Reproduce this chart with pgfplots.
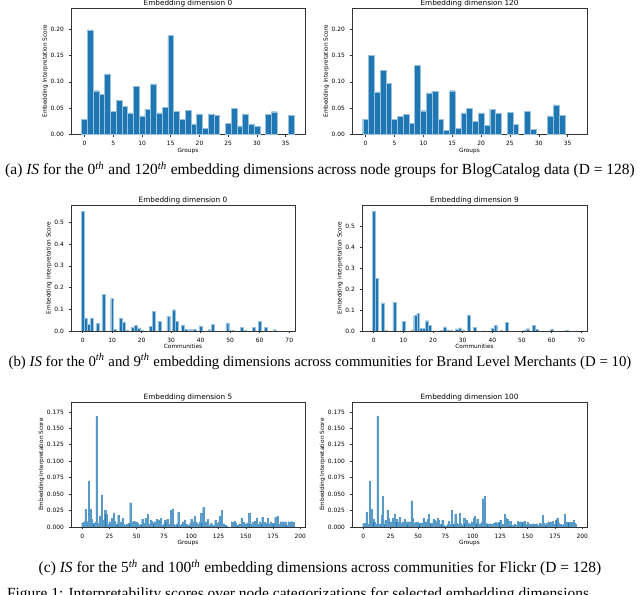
\documentclass[border=0pt]{standalone}
\usepackage{pgfplots}
\pgfplotsset{compat=1.18}
\usepackage{fontspec}
\setmainfont{Liberation Serif}
\newfontfamily\mpl{DejaVu Sans}
\definecolor{mplblue}{HTML}{1F77B4}

\pgfplotsset{
  mplax/.style={
    scale only axis,
    anchor=north west,
    axis line style={black!80, line width=0.5pt},
    tick pos=left,
    tick align=outside,
    major tick length=1.6pt,
    every tick/.style={black!80, line width=0.4pt},
    ymin=0,
    ybar, bar shift=0pt,
    ticklabel style={font=\mpl\fontsize{4.2}{5}\selectfont},
    /pgf/number format/assume math mode=true,
    label style={font=\mpl\fontsize{4.1}{5}\selectfont},
    xlabel style={yshift=5.5pt},
    ylabel style={yshift=-5pt},
    title style={font=\mpl\fontsize{5.2}{6}\selectfont, yshift=-8.5pt},
    ylabel={Embedding Interpretation Score},
    scaled y ticks=false,
  },
  barwide/.style={fill=mplblue, draw=white!55!mplblue, line width=0.25pt, bar width=1},
  barthin/.style={fill=mplblue, draw=white!25!mplblue, line width=0.1pt, bar width=1},
  blog/.style={mplax, width=5.85cm, height=3.15cm, xmin=-2.35, xmax=38.35, ymax=0.24,
    xtick={0,5,...,35}, ytick={0,0.05,...,0.2}, xlabel={Groups},
    yticklabel style={/pgf/number format/.cd, fixed, fixed zerofill, precision=2}},
  brand/.style={mplax, width=5.6cm, height=3.15cm, xmin=-3.95, xmax=71.95,
    xtick={0,10,...,70}, ytick={0,0.1,...,0.5}, xlabel={Communities},
    yticklabel style={/pgf/number format/.cd, fixed, fixed zerofill, precision=1}},
  flickr/.style={mplax, width=5.85cm, height=3.125cm, xmin=-10.25, xmax=204.25, ymax=0.19,
    xtick={0,25,...,200}, ytick={0,0.025,...,0.176}, xlabel={Groups},
    yticklabel style={/pgf/number format/.cd, fixed, fixed zerofill, precision=3}},
}

\begin{document}
\begin{tikzpicture}
\useasboundingbox (0,0) rectangle (16,14.875);

% (a) BlogCatalog
\begin{axis}[blog, at={(1.775cm,14.667cm)}, title={Embedding dimension 0}]
\addplot[barwide] coordinates {(0,0.028) (1,0.199) (2,0.083) (3,0.076) (4,0.115) (5,0.044)
 (6,0.065) (7,0.053) (8,0.041) (9,0.091) (10,0.035) (11,0.048) (12,0.096) (13,0.041)
 (14,0.051) (15,0.188) (16,0.044) (17,0.029) (18,0.046) (19,0.020) (20,0.039) (21,0.011)
 (22,0.039) (23,0.036) (25,0.021) (26,0.049) (27,0.016) (28,0.039) (29,0.020) (30,0.015)
 (32,0.038) (33,0.043) (36,0.036)};
\end{axis}
\begin{axis}[blog, at={(8.8cm,14.667cm)}, width=5.875cm, title={Embedding dimension 120}]
\addplot[barwide] coordinates {(0,0.029) (1,0.150) (2,0.081) (3,0.122) (4,0.097) (5,0.028)
 (6,0.034) (7,0.038) (8,0.021) (9,0.131) (10,0.045) (11,0.079) (12,0.082) (13,0.029)
 (14,0.007) (15,0.083) (16,0.011) (17,0.041) (18,0.049) (19,0.025) (20,0.041) (21,0.017)
 (22,0.048) (23,0.040) (25,0.042) (26,0.019) (28,0.044) (29,0.010) (32,0.035) (33,0.056)
 (34,0.036)};
\end{axis}

% (b) Brand Level Merchants
\begin{axis}[brand, at={(1.775cm,9.75cm)}, ymax=0.58, title={Embedding dimension 0}]
\addplot[barwide] coordinates {(0,0.552) (1,0.060) (2,0.030) (3,0.060) (5,0.035) (7,0.168)
 (10,0.149) (11,0.008) (13,0.060) (14,0.042) (15,0.005) (17,0.018) (18,0.025) (19,0.014)
 (20,0.004) (23,0.020) (24,0.090) (26,0.045) (29,0.068) (31,0.098) (32,0.045) (34,0.028)
 (35,0.008) (36,0.006) (37,0.006) (38,0.007) (40,0.023) (43,0.006) (44,0.030) (49,0.037)
 (50,0.003) (51,0.002) (54,0.016) (55,0.004) (58,0.016) (60,0.045) (62,0.018) (65,0.006)};
\end{axis}
\begin{axis}[brand, at={(9.05cm,9.75cm)}, width=5.625cm, ymax=0.60, title={Embedding dimension 9}]
\addplot[barwide] coordinates {(0,0.572) (1,0.250) (3,0.134) (4,0.002) (7,0.137) (10,0.046)
 (13,0.005) (14,0.073) (15,0.083) (16,0.014) (17,0.014) (18,0.049) (19,0.027) (23,0.002)
 (24,0.020) (25,0.005) (26,0.003) (28,0.010) (29,0.015) (30,0.003) (32,0.077) (34,0.016)
 (37,0.001) (40,0.014) (41,0.027) (43,0.002) (45,0.040) (51,0.005) (52,0.011) (54,0.028)
 (55,0.007) (60,0.007) (65,0.002)};
\end{axis}

% (c) Flickr
\begin{axis}[flickr, at={(1.775cm,4.825cm)}, title={Embedding dimension 5}]
\addplot[barthin] coordinates {(0,0.006) (1,0.007) (2,0.008) (3,0.027) (4,0.005) (5,0.008)
 (6,0.070) (7,0.004) (8,0.027) (9,0.012) (10,0.006) (11,0.005) (12,0.007) (13,0.168)
 (14,0.004) (15,0.006) (16,0.017) (17,0.005) (18,0.049) (19,0.010) (20,0.006) (21,0.025)
 (22,0.019) (23,0.004) (24,0.003) (25,0.008) (26,0.004) (27,0.014) (28,0.006) (29,0.021)
 (30,0.009) (31,0.003) (32,0.005) (33,0.018) (34,0.007) (35,0.004) (36,0.008) (37,0.013)
 (38,0.004) (39,0.002) (40,0.003) (41,0.005) (42,0.004) (43,0.006) (44,0.037) (45,0.008)
 (46,0.006) (47,0.009) (48,0.005) (49,0.008) (50,0.007) (51,0.006) (52,0.002) (53,0.003)
 (54,0.004) (55,0.012) (56,0.003) (57,0.006) (58,0.013) (59,0.007) (60,0.020) (61,0.004)
 (62,0.002) (63,0.011) (64,0.009) (65,0.006) (66,0.008) (67,0.005) (68,0.012) (69,0.007)
 (70,0.011) (71,0.004) (72,0.013) (73,0.003) (74,0.002) (75,0.005) (76,0.011) (77,0.007)
 (78,0.012) (79,0.003) (80,0.004) (81,0.025) (82,0.006) (83,0.028) (84,0.004) (85,0.003)
 (86,0.002) (87,0.005) (88,0.023) (89,0.002) (90,0.003) (91,0.004) (92,0.008) (93,0.002)
 (94,0.011) (95,0.003) (96,0.004) (97,0.002) (98,0.003) (99,0.006) (100,0.012) (101,0.004)
 (102,0.008) (103,0.017) (104,0.007) (105,0.006) (106,0.005) (107,0.004) (108,0.008)
 (109,0.021) (110,0.006) (111,0.030) (112,0.004) (113,0.008) (114,0.003) (115,0.012)
 (116,0.002) (117,0.003) (118,0.006) (119,0.004) (120,0.002) (121,0.003) (122,0.010)
 (123,0.004) (124,0.006) (125,0.008) (126,0.016) (127,0.003) (128,0.026) (129,0.004)
 (130,0.005) (131,0.003) (132,0.002) (137,0.008) (138,0.004) (139,0.007) (140,0.009)
 (141,0.006) (142,0.003) (143,0.002) (144,0.005) (145,0.004) (146,0.013) (147,0.003)
 (148,0.007) (149,0.002) (150,0.004) (151,0.006) (152,0.003) (153,0.021) (154,0.004)
 (155,0.002) (156,0.007) (157,0.003) (158,0.009) (159,0.005) (160,0.014) (161,0.004)
 (162,0.003) (163,0.008) (164,0.005) (165,0.015) (166,0.004) (167,0.007) (168,0.003)
 (169,0.006) (170,0.013) (171,0.005) (172,0.004) (173,0.008) (174,0.003) (175,0.006)
 (176,0.004) (177,0.015) (178,0.012) (179,0.017) (180,0.005) (181,0.003) (182,0.008)
 (183,0.002) (184,0.008) (185,0.003) (186,0.008) (187,0.002) (188,0.003) (189,0.008)
 (190,0.002) (191,0.008) (192,0.008) (193,0.008) (194,0.007)};
\end{axis}
\begin{axis}[flickr, at={(8.8cm,4.825cm)}, width=5.875cm, title={Embedding dimension 100}]
\addplot[barthin] coordinates {(0,0.005) (1,0.006) (2,0.006) (3,0.023) (4,0.004) (5,0.003)
 (6,0.070) (7,0.005) (8,0.027) (9,0.012) (10,0.008) (11,0.004) (12,0.002) (13,0.169)
 (14,0.003) (15,0.004) (16,0.005) (17,0.018) (18,0.047) (19,0.004) (20,0.010) (21,0.006)
 (22,0.026) (23,0.014) (24,0.003) (25,0.008) (26,0.005) (27,0.014) (28,0.006) (29,0.020)
 (30,0.012) (31,0.008) (32,0.003) (33,0.015) (34,0.006) (35,0.004) (36,0.008) (37,0.003)
 (38,0.012) (39,0.005) (40,0.008) (41,0.004) (42,0.008) (43,0.006) (44,0.040) (45,0.013)
 (46,0.005) (47,0.006) (48,0.007) (49,0.004) (50,0.007) (51,0.006) (52,0.005) (53,0.006)
 (54,0.003) (55,0.013) (56,0.004) (57,0.008) (58,0.005) (59,0.012) (60,0.020) (61,0.006)
 (62,0.004) (63,0.006) (64,0.012) (65,0.011) (66,0.005) (67,0.008) (68,0.013) (69,0.011)
 (70,0.005) (71,0.004) (72,0.010) (73,0.003) (74,0.002) (75,0.001) (76,0.002) (77,0.004)
 (78,0.009) (79,0.003) (80,0.004) (81,0.025) (82,0.005) (83,0.004) (84,0.019) (85,0.006)
 (86,0.003) (87,0.004) (88,0.021) (89,0.006) (90,0.002) (91,0.003) (92,0.014) (93,0.005)
 (94,0.010) (95,0.003) (96,0.006) (97,0.002) (98,0.004) (99,0.008) (100,0.005) (101,0.014)
 (102,0.016) (103,0.006) (104,0.012) (105,0.004) (106,0.003) (107,0.005) (108,0.007)
 (109,0.043) (110,0.016) (111,0.047) (112,0.006) (113,0.005) (114,0.004) (115,0.003)
 (116,0.005) (117,0.002) (118,0.004) (119,0.006) (120,0.003) (121,0.007) (122,0.006)
 (123,0.004) (124,0.007) (125,0.011) (126,0.003) (127,0.004) (128,0.002) (129,0.020)
 (130,0.013) (131,0.005) (132,0.012) (133,0.004) (134,0.009) (135,0.002) (136,0.003)
 (137,0.002) (138,0.005) (139,0.002) (140,0.003) (141,0.009) (142,0.007) (143,0.006)
 (144,0.008) (145,0.007) (146,0.006) (147,0.009) (148,0.005) (149,0.003) (150,0.007)
 (151,0.004) (152,0.002) (153,0.004) (154,0.003) (155,0.005) (156,0.002) (157,0.004)
 (158,0.005) (159,0.002) (160,0.003) (161,0.006) (162,0.004) (163,0.005) (164,0.018)
 (165,0.006) (166,0.003) (167,0.006) (168,0.002) (169,0.008) (170,0.004) (171,0.008)
 (172,0.003) (173,0.009) (174,0.004) (175,0.002) (176,0.011) (177,0.014) (178,0.006)
 (179,0.003) (180,0.004) (181,0.002) (182,0.003) (183,0.004) (184,0.020) (185,0.008)
 (186,0.007) (187,0.007) (188,0.006) (189,0.007) (190,0.005) (191,0.007) (192,0.011)
 (193,0.006) (194,0.004)};
\end{axis}

% captions
\begin{scope}[every node/.style={font=\fontsize{11}{13}\selectfont, inner sep=0pt}]
\node[anchor=base] at (8,10.51) {(a) \textit{IS} for the 0\textsuperscript{\textit{th}} and 120\textsuperscript{\textit{th}} embedding dimensions across node groups for BlogCatalog data (D = 128)};
\node[anchor=base, font=\fontsize{10.55}{12.5}\selectfont] at (8,5.72) {(b) \textit{IS} for the 0\textsuperscript{\textit{th}} and 9\textsuperscript{\textit{th}} embedding dimensions across communities for Brand Level Merchants (D = 10)};
\node[anchor=base] at (8,0.56) {(c) \textit{IS} for the 5\textsuperscript{\textit{th}} and 100\textsuperscript{\textit{th}} embedding dimensions across communities for Flickr (D = 128)};
\node[anchor=base west] at (0.17,-0.08) {Figure 1: Interpretability scores over node categorizations for selected embedding dimensions};
\end{scope}
\end{tikzpicture}
\end{document}
